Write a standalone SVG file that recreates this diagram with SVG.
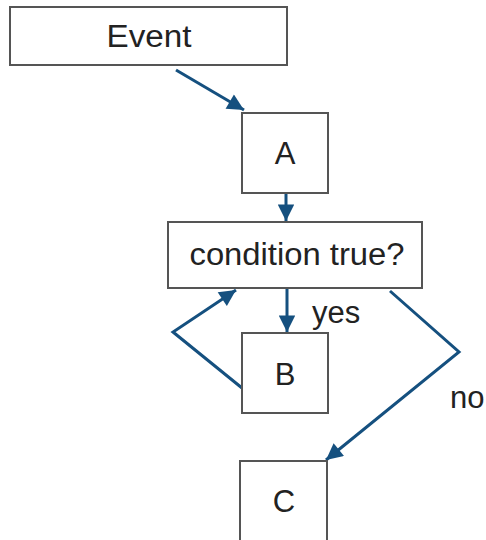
<svg xmlns="http://www.w3.org/2000/svg" width="486" height="540" viewBox="0 0 486 540">
<style>
.box{fill:#fff;stroke:#555;stroke-width:2}
.lbl{font-family:"Liberation Sans",Arial,sans-serif;font-size:31px;fill:#222;text-anchor:middle}
.edge{fill:none;stroke:#15507f;stroke-width:3}
.elbl{font-family:"Liberation Sans",Arial,sans-serif;font-size:31px;fill:#222}
</style>
<defs>
<marker id="ah" viewBox="0 0 10 10" refX="10" refY="5" markerWidth="6" markerHeight="5.5" orient="auto" markerUnits="strokeWidth">
<path d="M0,0 L10,5 L0,10 z" fill="#15507f"/>
</marker>
</defs>
<g id="connectors">
<path class="edge" d="M176,70 L244,110" marker-end="url(#ah)"/>
<path class="edge" d="M286,193 L286,221" marker-end="url(#ah)"/>
<path class="edge" d="M287,288 L287,332" marker-end="url(#ah)"/>
<path class="edge" d="M242,388 L173,332 L236,290" marker-end="url(#ah)"/>
<path class="edge" d="M390,291 L459,352 L326,460" marker-end="url(#ah)"/>
<text class="elbl" x="312" y="323">yes</text>
<text class="elbl" x="450" y="408">no</text>
</g>
<g id="event"><rect class="box" x="10" y="7" width="277" height="58"/><text class="lbl" x="149" y="47" textLength="85" lengthAdjust="spacingAndGlyphs">Event</text></g>
<g id="a"><rect class="box" x="242" y="113" width="86" height="80"/><text class="lbl" x="285" y="164">A</text></g>
<g id="cond"><rect class="box" x="168" y="222" width="254" height="66"/><text class="lbl" x="297" y="265" textLength="215" lengthAdjust="spacingAndGlyphs">condition true?</text></g>
<g id="b"><rect class="box" x="242" y="333" width="86" height="80"/><text class="lbl" x="285" y="385">B</text></g>
<g id="c"><rect class="box" x="240" y="461" width="87" height="85"/><text class="lbl" x="284" y="512">C</text></g>
</svg>
